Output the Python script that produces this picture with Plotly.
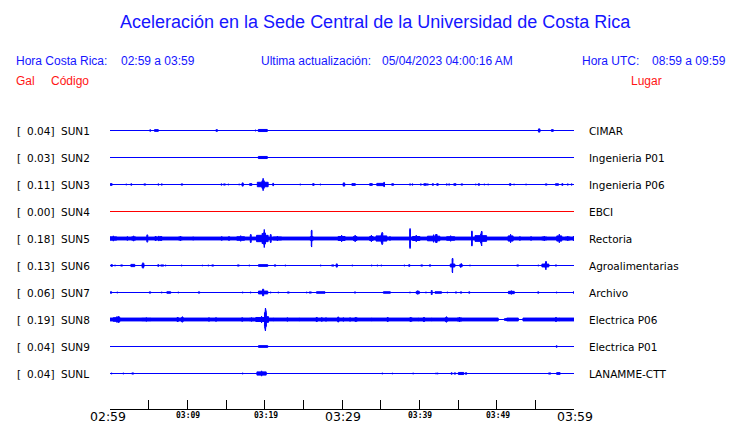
import plotly.graph_objects as go

# ---------------- data ----------------
codes = ["SUN1", "SUN2", "SUN3", "SUN4", "SUN5", "SUN6", "SUN7", "SUN8", "SUN9", "SUNL"]
peak_gal = [0.04, 0.03, 0.11, 0.00, 0.18, 0.13, 0.06, 0.19, 0.04, 0.04]
places = ["CIMAR", "Ingenieria P01", "Ingenieria P06", "EBCI", "Rectoria",
          "Agroalimentarias", "Archivo", "Electrica P06", "Electrica P01", "LANAMME-CTT"]
active = [True, True, True, False, True, True, True, True, True, True]

# x-axis: minutes after 02:59 local time
tick_minutes = list(range(0, 61, 5))
major_labels = {0: "02:59", 30: "03:29", 60: "03:59"}
minor_labels = {10: "03:09", 20: "03:19", 40: "03:39", 50: "03:49"}

# bursts: (minute, half amplitude in gal, duration in minutes)
SUN1 = [(5.2, 0.015, 0.1), (6.0, 0.023, 0.5), (13.8, 0.015, 0.2), (18.8, 0.01, 0.1),
        (19.76, 0.028, 1.16), (55.5, 0.03, 0.2), (57.2, 0.023, 0.25)]
SUN2 = [(19.76, 0.028, 1.16)]
SUN3 = [(0.15, 0.023, 0.25), (2.1, 0.01, 0.1), (2.75, 0.015, 0.1), (4.5, 0.015, 0.25),
        (6.25, 0.012, 0.1), (6.7, 0.012, 0.1), (9.3, 0.015, 0.25), (14.4, 0.012, 0.1),
        (14.8, 0.015, 0.25), (15.3, 0.01, 0.1), (16.7, 0.01, 0.1), (17.15, 0.03, 0.15),
        (18.2, 0.023, 0.3), (19.75, 0.06, 1.4), (19.8, 0.1, 0.3), (21.1, 0.023, 0.1),
        (24.6, 0.01, 0.1), (26.3, 0.015, 0.2), (27.2, 0.01, 0.1), (30.25, 0.03, 0.2),
        (31.5, 0.023, 0.45), (33.75, 0.023, 0.35), (35.0, 0.03, 1.0), (35.45, 0.04, 0.1),
        (36.55, 0.02, 0.25), (38.8, 0.012, 0.1), (39.1, 0.012, 0.1), (40.2, 0.012, 0.1),
        (40.75, 0.02, 0.35), (41.1, 0.012, 0.1), (41.75, 0.015, 0.15), (42.35, 0.015, 0.2),
        (43.55, 0.012, 0.1), (43.85, 0.012, 0.1), (44.6, 0.02, 0.3), (45.5, 0.015, 0.25),
        (47.3, 0.01, 0.1), (47.7, 0.015, 0.15), (48.4, 0.01, 0.1), (48.9, 0.01, 0.1),
        (51.75, 0.015, 0.2), (52.25, 0.01, 0.1), (53.8, 0.01, 0.1), (56.4, 0.015, 0.25),
        (57.8, 0.02, 0.4), (58.5, 0.015, 0.15), (59.2, 0.012, 0.1), (59.7, 0.012, 0.1)]
SUN4 = []
SUN5 = [(0.43, 0.043, 0.87), (2.25, 0.031, 0.25), (3.05, 0.043, 0.5), (4.82, 0.062, 0.12),
        (5.9, 0.038, 0.15), (6.3, 0.04, 0.15), (6.6, 0.038, 0.2), (9.1, 0.038, 0.5),
        (10.77, 0.025, 0.2), (14.44, 0.031, 0.15), (15.39, 0.031, 0.2), (16.9, 0.046, 1.0),
        (18.2, 0.069, 0.12), (19.7, 0.085, 1.5), (19.95, 0.146, 0.3), (20.78, 0.069, 0.12),
        (21.65, 0.038, 1.1), (26.08, 0.046, 0.4), (26.08, 0.138, 0.12), (29.95, 0.054, 0.9),
        (31.7, 0.054, 0.45), (33.8, 0.054, 0.45), (35.1, 0.07, 1.4), (35.2, 0.1, 0.15),
        (36.2, 0.031, 0.15), (38.8, 0.162, 0.1), (39.6, 0.054, 0.95), (41.85, 0.062, 1.6),
        (42.2, 0.075, 0.2), (44.05, 0.046, 1.05), (46.8, 0.123, 0.1), (47.95, 0.077, 1.5),
        (48.07, 0.12, 0.12), (51.8, 0.069, 0.65), (53.0, 0.031, 0.15), (54.45, 0.031, 0.15),
        (56.15, 0.038, 0.65), (58.1, 0.07, 0.65), (59.2, 0.038, 0.65), (59.95, 0.038, 0.1)]
SUN6 = [(0.22, 0.015, 0.2), (0.65, 0.01, 0.1), (1.5, 0.015, 0.25), (2.95, 0.03, 0.5),
        (4.27, 0.046, 0.25), (6.25, 0.015, 0.15), (6.75, 0.015, 0.4), (7.2, 0.01, 0.1),
        (9.27, 0.01, 0.1), (11.94, 0.008, 0.1), (12.71, 0.01, 0.1), (13.28, 0.015, 0.25),
        (16.59, 0.015, 0.25), (18.01, 0.01, 0.1), (19.8, 0.023, 1.2), (21.34, 0.015, 0.25),
        (22.67, 0.01, 0.1), (27.25, 0.01, 0.1), (28.8, 0.015, 0.3), (29.32, 0.03, 0.15),
        (31.33, 0.01, 0.1), (33.84, 0.01, 0.1), (34.57, 0.01, 0.1), (35.08, 0.01, 0.1),
        (38.06, 0.01, 0.1), (38.7, 0.015, 0.15), (40.31, 0.015, 0.25), (41.38, 0.015, 0.25),
        (44.3, 0.038, 0.6), (44.3, 0.12, 0.12), (45.39, 0.031, 0.3), (46.55, 0.01, 0.1),
        (52.72, 0.015, 0.25), (55.38, 0.01, 0.1), (56.3, 0.038, 0.9), (56.38, 0.07, 0.12),
        (57.67, 0.012, 0.1)]
SUN7 = [(0.13, 0.015, 0.15), (0.94, 0.01, 0.1), (5.17, 0.015, 0.25), (6.69, 0.01, 0.1),
        (7.6, 0.02, 0.5), (8.83, 0.01, 0.1), (11.51, 0.015, 0.25), (17.16, 0.01, 0.1),
        (18.19, 0.01, 0.1), (19.8, 0.038, 1.2), (19.8, 0.062, 0.15), (20.78, 0.01, 0.1),
        (21.76, 0.01, 0.1), (23.06, 0.015, 0.25), (25.44, 0.01, 0.1), (25.9, 0.015, 0.3),
        (27.25, 0.02, 1.1), (31.68, 0.012, 0.1), (35.8, 0.02, 0.9), (38.79, 0.01, 0.1),
        (39.8, 0.031, 0.4), (40.86, 0.01, 0.1), (41.6, 0.038, 0.12), (42.45, 0.02, 0.85),
        (43.62, 0.01, 0.1), (44.74, 0.012, 0.1), (45.39, 0.012, 0.15), (46.46, 0.012, 0.15),
        (51.9, 0.031, 0.75), (55.38, 0.012, 0.15), (57.76, 0.01, 0.1), (60.0, 0.015, 0.15)]
SUN8 = [(0.86, 0.046, 0.9), (1.1, 0.054, 0.2), (4.7, 0.031, 1.2), (8.75, 0.038, 0.15),
        (9.35, 0.046, 0.3), (12.8, 0.031, 0.12), (13.71, 0.031, 0.15), (17.1, 0.031, 0.15),
        (18.3, 0.031, 0.6), (19.6, 0.054, 1.5), (20.1, 0.185, 0.25), (20.4, 0.054, 0.2),
        (21.12, 0.023, 0.1), (22.93, 0.031, 0.1), (24.48, 0.023, 0.1), (26.73, 0.038, 0.15),
        (27.38, 0.031, 0.15), (27.93, 0.031, 0.1), (29.52, 0.046, 0.15), (30.17, 0.031, 0.1),
        (31.04, 0.031, 0.1), (31.8, 0.038, 0.4), (33.84, 0.023, 0.1), (35.91, 0.038, 0.12),
        (38.9, 0.038, 0.4), (39.87, 0.023, 0.1), (40.6, 0.038, 0.15), (41.6, 0.023, 0.1),
        (43.5, 0.046, 0.3), (45.2, 0.038, 0.6), (51.2, 0.023, 0.4), (57.67, 0.038, 0.12),
        (58.1, 0.023, 0.1)]
SUN9 = [(19.8, 0.023, 1.2), (57.76, 0.015, 0.1)]
SUNL = [(0.22, 0.01, 0.1), (1.72, 0.01, 0.1), (2.94, 0.015, 0.25), (17.16, 0.01, 0.1),
        (19.6, 0.043, 1.2), (35.21, 0.01, 0.1), (36.51, 0.008, 0.1), (39.2, 0.01, 0.1),
        (42.16, 0.01, 0.1), (42.38, 0.01, 0.1), (44.18, 0.015, 0.12), (44.6, 0.015, 0.25),
        (45.4, 0.028, 0.7), (46.04, 0.015, 0.15), (56.85, 0.015, 0.3), (57.98, 0.023, 0.45)]
bursts = [SUN1, SUN2, SUN3, SUN4, SUN5, SUN6, SUN7, SUN8, SUN9, SUNL]

# continuous background noise: (start minute, end minute, half amplitude in gal)
SUN5_noise = [(0.0, 60.0, 0.023)]
SUN8_noise = [(0.0, 50.2, 0.023), (51.3, 52.8, 0.023), (53.4, 60.0, 0.023)]
noise = {4: SUN5_noise, 7: SUN8_noise}

# ---------------- layout constants ----------------
W, H = 740, 423
L, R, T, B = 110, 574, 115, 409
ROW0, ROWSTEP = 130.5, 27.0
PX_PER_GAL = 62.0
BLUE = "#0000ff"
RED = "#ff0000"
TXT_BLUE = "#1515ff"
TXT_RED = "#ff1515"
SPIKE = 0.05      # half width (minutes) of the central peak of a burst
BODY = 0.6        # relative height of the burst body


def px_x(p):
    return (p - L) / (R - L)


def px_y(p):
    return (B - p) / (B - T)


def gal_to_rows(g):
    return g * PX_PER_GAL / ROWSTEP


fig = go.Figure()

for i, code in enumerate(codes):
    color = BLUE if active[i] else RED
    # baseline
    fig.add_trace(go.Scatter(x=[0, 60], y=[i, i], mode="lines",
                             line=dict(color=color, width=1),
                             hoverinfo="skip", showlegend=False))
    # noise bands
    if i in noise:
        xs, ys = [], []
        for (s, e, g) in noise[i]:
            h = gal_to_rows(g)
            xs += [s, e, e, s, s, None]
            ys += [i - h, i - h, i + h, i + h, i - h, None]
        fig.add_trace(go.Scatter(x=xs, y=ys, mode="lines", fill="toself",
                                 fillcolor=color, line=dict(color=color, width=1),
                                 hoverinfo="skip", showlegend=False))
    # bursts: flat body with a thin central peak
    if bursts[i]:
        xs, ys = [], []
        for (t, g, d) in bursts[i]:
            h = gal_to_rows(g)
            t0, t1 = max(0, t - d / 2), min(60, t + d / 2)
            e = min(SPIKE, d / 2)
            bh = BODY * h if d > 0.2 else 0.85 * h
            xs += [t0, t - e, t, t + e, t1, t1, t + e, t, t - e, t0, t0, None]
            ys += [i - bh, i - bh, i - h, i - bh, i - bh,
                   i + bh, i + bh, i + h, i + bh, i + bh, i - bh, None]
        fig.add_trace(go.Scatter(x=xs, y=ys, mode="lines", fill="toself",
                                 fillcolor=color, line=dict(color=color, width=1),
                                 hoverinfo="skip", showlegend=False))

ann = []
lab_font = dict(family="DejaVu Sans", size=10.5, color="#000000")
for i, code in enumerate(codes):
    yy = px_y(ROW0 + i * ROWSTEP)
    ann.append(dict(text="[", x=px_x(15), y=yy, xanchor="left", yanchor="middle", font=lab_font))
    ann.append(dict(text=f"{peak_gal[i]:.2f}]", x=px_x(55.5), y=yy, xanchor="right", yanchor="middle", font=lab_font))
    ann.append(dict(text=code, x=px_x(58.5), y=yy, xanchor="left", yanchor="middle", font=lab_font))
    ann.append(dict(text=places[i], x=px_x(587), y=yy, xanchor="left", yanchor="middle", font=lab_font))

for m, s in major_labels.items():
    ann.append(dict(text=s, xref="x", x=m, y=px_y(416), xanchor="center", yanchor="middle",
                    xshift=-2.5 if m == 0 else 0.5,
                    font=dict(family="DejaVu Sans", size=12.5, color="#000000")))
for m, s in minor_labels.items():
    ann.append(dict(text=f"<b>{s}</b>", xref="x", x=m, y=px_y(415.5), xanchor="center", yanchor="middle",
                    xshift=1,
                    font=dict(family="DejaVu Sans Mono", size=8, color="#000000")))

hdr = dict(family="Liberation Sans", size=12, color=TXT_BLUE)
ann += [
    dict(text="Aceleración en la Sede Central de la Universidad de Costa Rica", x=px_x(375), y=px_y(22),
         xanchor="center", yanchor="middle", font=dict(family="Liberation Sans", size=18, color=TXT_BLUE)),
    dict(text="Hora Costa Rica:", x=px_x(14), y=px_y(61), xanchor="left", yanchor="middle", font=hdr),
    dict(text="02:59 a 03:59", x=px_x(119), y=px_y(61), xanchor="left", yanchor="middle", font=hdr),
    dict(text="Ultima actualización:", x=px_x(259), y=px_y(61), xanchor="left", yanchor="middle", font=hdr),
    dict(text="05/04/2023 04:00:16 AM", x=px_x(379.5), y=px_y(61), xanchor="left", yanchor="middle", font=hdr),
    dict(text="Hora UTC:", x=px_x(579.5), y=px_y(61), xanchor="left", yanchor="middle", font=hdr),
    dict(text="08:59 a 09:59", x=px_x(649.5), y=px_y(61), xanchor="left", yanchor="middle", font=hdr),
    dict(text="Gal", x=px_x(14), y=px_y(81), xanchor="left", yanchor="middle",
         font=dict(family="Liberation Sans", size=12, color=TXT_RED)),
    dict(text="Código", x=px_x(49), y=px_y(81), xanchor="left", yanchor="middle",
         font=dict(family="Liberation Sans", size=12, color=TXT_RED)),
    dict(text="Lugar", x=px_x(628.5), y=px_y(81), xanchor="left", yanchor="middle",
         font=dict(family="Liberation Sans", size=12, color=TXT_RED)),
]
for a in ann:
    a.setdefault("xref", "paper")
    a["yref"] = "paper"
    a["showarrow"] = False

fig.update_layout(
    width=W, height=H,
    margin=dict(l=L, r=W - R, t=T, b=H - B, pad=0, autoexpand=False),
    paper_bgcolor="white", plot_bgcolor="white",
    showlegend=False,
    annotations=ann,
    xaxis=dict(range=[0, 60], tickvals=tick_minutes, ticks="inside", ticklen=9,
               tickcolor="#000000", tickwidth=1, showticklabels=False,
               showline=True, linecolor="#000000", linewidth=1,
               showgrid=False, zeroline=False, fixedrange=True, automargin=False),
    yaxis=dict(range=[(B - ROW0) / ROWSTEP, (T - ROW0) / ROWSTEP], visible=False,
               showgrid=False, zeroline=False, fixedrange=True),
)

fig.write_html("out.html", config={"displayModeBar": False},
               post_script="document.body.style.margin='0';document.body.style.overflow='hidden';")
